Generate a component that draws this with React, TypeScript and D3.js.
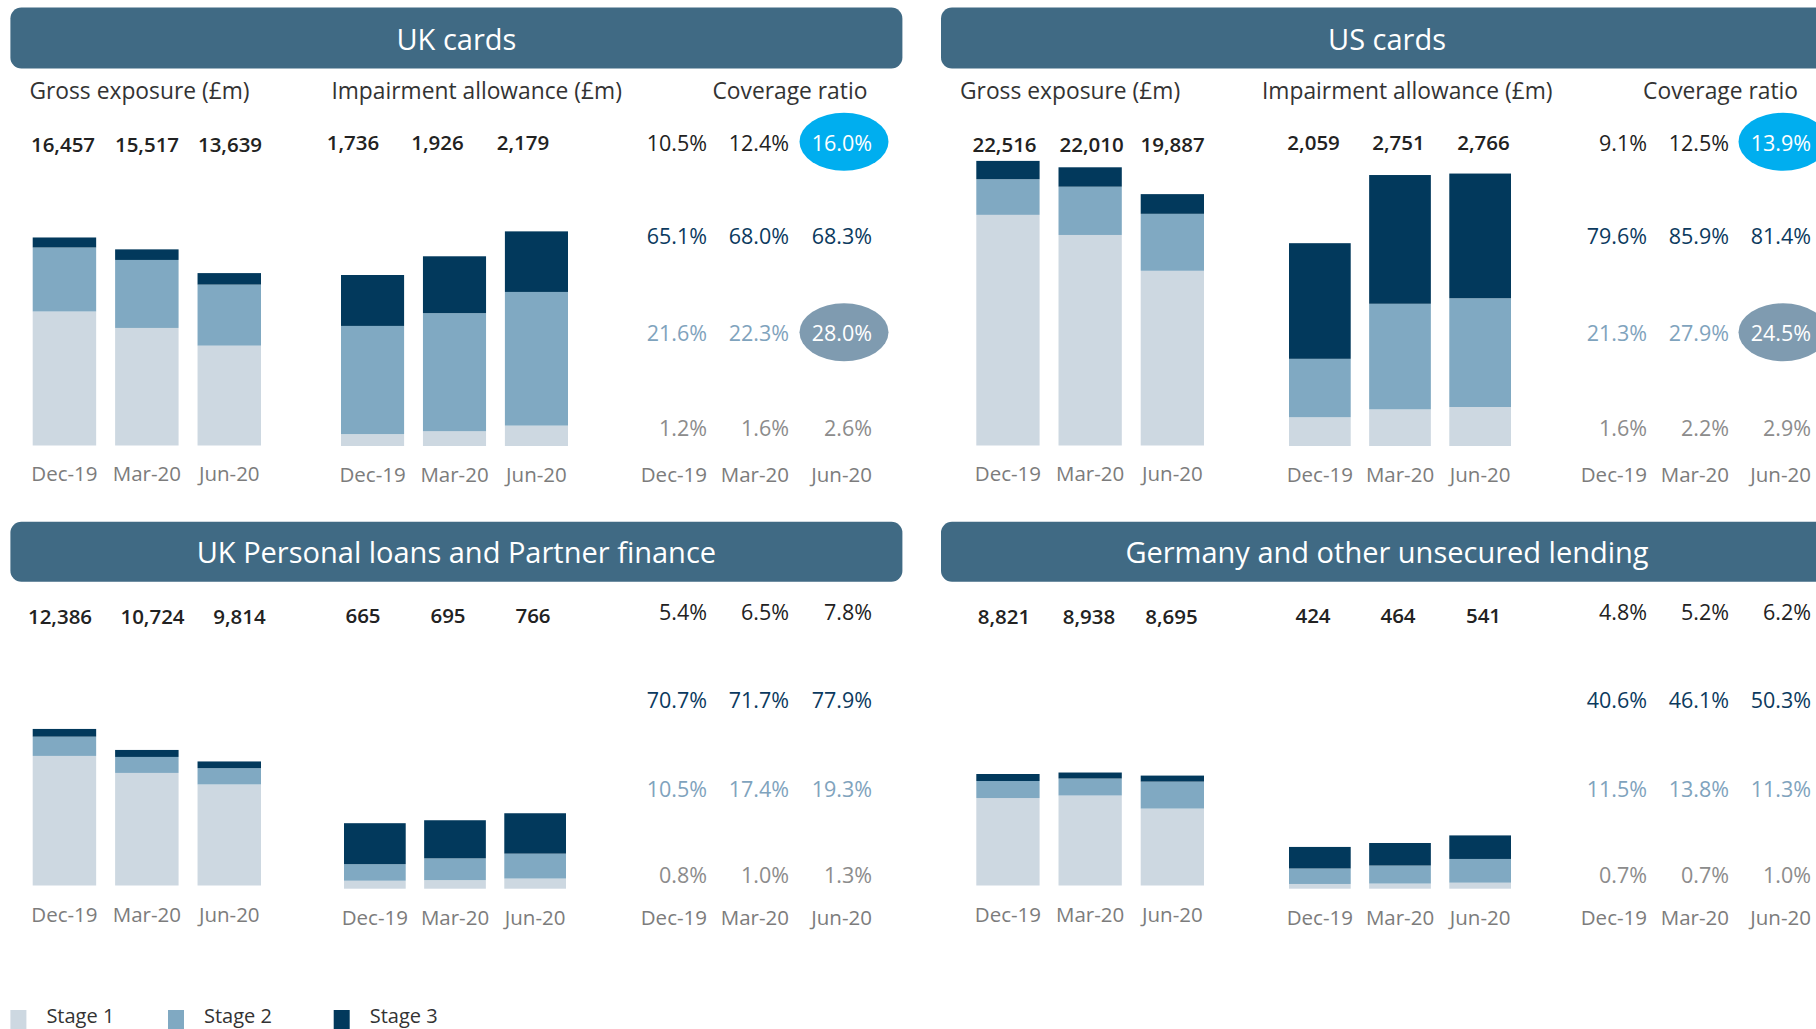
import * as d3 from 'd3';

const W = 1816;
const H = 1029;
const FONT = '"Open Sans", sans-serif';

const DATES = ['Dec-19', 'Mar-20', 'Jun-20'];
const STAGES = ['Stage 1', 'Stage 2', 'Stage 3'];
const STAGE_COLORS = ['#cdd8e1', '#80a9c2', '#02395c'];
const COLUMN_HEADS = ['Gross exposure (£m)', 'Impairment allowance (£m)', 'Coverage ratio'];

// stage 1, stage 2, stage 3 per date (£m)
const UK_CARDS_GROSS = [[10602, 5064, 791], [9300, 5380, 837], [7900, 4830, 909]];
const UK_CARDS_IMP = [[121, 1098, 517], [150, 1199, 577], [207, 1357, 615]];
const UK_CARDS_GROSS_TOTAL = [16457, 15517, 13639];
const UK_CARDS_IMP_TOTAL = [1736, 1926, 2179];
// rows: total, stage 3, stage 2, stage 1
const UK_CARDS_COVERAGE = [[10.5, 12.4, 16.0], [65.1, 68.0, 68.3], [21.6, 22.3, 28.0], [1.2, 1.6, 2.6]];

const US_CARDS_GROSS = [[18246, 2823, 1447], [16656, 3820, 1534], [13821, 4508, 1558]];
const US_CARDS_IMP = [[292, 593, 1174], [372, 1072, 1307], [396, 1104, 1266]];
const US_CARDS_GROSS_TOTAL = [22516, 22010, 19887];
const US_CARDS_IMP_TOTAL = [2059, 2751, 2766];
const US_CARDS_COVERAGE = [[9.1, 12.5, 13.9], [79.6, 85.9, 81.4], [21.3, 27.9, 24.5], [1.6, 2.2, 2.9]];

const UK_LOANS_GROSS = [[10251, 1526, 609], [8906, 1265, 553], [7995, 1289, 530]];
const UK_LOANS_IMP = [[81, 168, 416], [87, 221, 387], [103, 253, 410]];
const UK_LOANS_GROSS_TOTAL = [12386, 10724, 9814];
const UK_LOANS_IMP_TOTAL = [665, 695, 766];
const UK_LOANS_COVERAGE = [[5.4, 6.5, 7.8], [70.7, 71.7, 77.9], [10.5, 17.4, 19.3], [0.8, 1.0, 1.3]];

const GERMANY_GROSS = [[6921, 1346, 554], [7118, 1345, 475], [6084, 2136, 475]];
const GERMANY_IMP = [[48, 157, 219], [52, 183, 229], [61, 241, 239]];
const GERMANY_GROSS_TOTAL = [8821, 8938, 8695];
const GERMANY_IMP_TOTAL = [424, 464, 541];
const GERMANY_COVERAGE = [[4.8, 5.2, 6.2], [40.6, 46.1, 50.3], [11.5, 13.8, 11.3], [0.7, 0.7, 1.0]];

const COV_ROW_COLORS = ['#222222', '#0b3a5e', '#7fa3bd', '#8c8c8c'];

const grossH = d3.scaleLinear().domain([0, 25000]).range([0, 316]);
const impH = d3.scaleLinear().domain([0, 3000]).range([0, 295.5]);

const top = {
  hy: 7.5, hh: 61, titleY: 50, headY: 98.5,
  grossTotY: 152, impTotY: 149.7,
  covRows: [150.7, 243.5, 341.2, 435.5],
  grossBase: 445.5, impBase: 446, grossDateY: 481, impDateY: 481.7, covDateY: 481.5,
};
const bottom = {
  hy: 521.7, hh: 60, titleY: 563, headY: 0,
  grossTotY: 624.3, impTotY: 623.3,
  covRows: [620, 708.3, 797.3, 883.3],
  grossBase: 885.5, impBase: 888.7, grossDateY: 921.7, impDateY: 925, covDateY: 925,
};

const PANELS = [
  {
    title: 'UK cards', row: top, hx: 10.4, heads: true,
    gross: UK_CARDS_GROSS, imp: UK_CARDS_IMP, grossTot: UK_CARDS_GROSS_TOTAL, impTot: UK_CARDS_IMP_TOTAL, cov: UK_CARDS_COVERAGE,
    grossRange: [32.7, 261], impRange: [341, 568], grossTotX: [63, 147, 230], impTotX: [353, 437.5, 523], covX: [707, 789, 872],
    highlight: true,
  },
  {
    title: 'US cards', row: top, hx: 941, heads: true,
    gross: US_CARDS_GROSS, imp: US_CARDS_IMP, grossTot: US_CARDS_GROSS_TOTAL, impTot: US_CARDS_IMP_TOTAL, cov: US_CARDS_COVERAGE,
    grossRange: [976.3, 1204], impRange: [1289, 1511], grossTotX: [1004.5, 1091.7, 1172.7], impTotX: [1313.6, 1398.5, 1483.5], covX: [1647, 1729, 1811],
    highlight: true,
  },
  {
    title: 'UK Personal loans and Partner finance', row: bottom, hx: 10.4, heads: false,
    gross: UK_LOANS_GROSS, imp: UK_LOANS_IMP, grossTot: UK_LOANS_GROSS_TOTAL, impTot: UK_LOANS_IMP_TOTAL, cov: UK_LOANS_COVERAGE,
    grossRange: [32.7, 261], impRange: [344, 566], grossTotX: [60, 152.5, 239.5], impTotX: [363, 448, 533], covX: [707, 789, 872],
    highlight: false,
  },
  {
    title: 'Germany and other unsecured lending', row: bottom, hx: 941, heads: false,
    gross: GERMANY_GROSS, imp: GERMANY_IMP, grossTot: GERMANY_GROSS_TOTAL, impTot: GERMANY_IMP_TOTAL, cov: GERMANY_COVERAGE,
    grossRange: [976.3, 1204], impRange: [1289, 1511], grossTotX: [1004, 1089, 1171.5], impTotX: [1313, 1398, 1483.5], covX: [1647, 1729, 1811],
    highlight: false,
  },
];

const fmt = d3.format(',');
const pct = (v) => `${v.toFixed(1)}%`;

function Stacks({ values, range, base, h, dateY }) {
  const x = d3.scaleBand().domain(DATES).range(range).paddingInner(0.23);
  const series = d3.stack().keys([0, 1, 2])(values.map((v) => ({ 0: v[0], 1: v[1], 2: v[2] })));
  return (
    <g>
      {series.map((s, si) =>
        s.map((d, i) => (
          <rect
            key={`${si}-${i}`}
            x={x(DATES[i])}
            width={x.bandwidth()}
            y={base - h(d[1])}
            height={h(d[1]) - h(d[0])}
            fill={STAGE_COLORS[si]}
          />
        ))
      )}
      {DATES.map((d) => (
        <text key={d} x={x(d) + x.bandwidth() / 2} y={dateY} textAnchor="middle" fontSize={20.5} fill="#7c7c7c">
          {d}
        </text>
      ))}
    </g>
  );
}

function Panel({ p }) {
  const r = p.row;
  return (
    <g>
      <rect x={p.hx} y={r.hy} width={892} height={r.hh} rx={11} fill="#406a84" />
      <text x={p.hx + 446} y={r.titleY} textAnchor="middle" fontSize={29} fill="#ffffff">
        {p.title}
      </text>
      {p.heads && (
        <g fontSize={22.8} fill="#333333">
          <text x={p.hx + 19} y={r.headY}>{COLUMN_HEADS[0]}</text>
          <text x={p.hx + 321} y={r.headY}>{COLUMN_HEADS[1]}</text>
          <text x={p.hx + 857} y={r.headY} textAnchor="end">{COLUMN_HEADS[2]}</text>
        </g>
      )}
      <Stacks values={p.gross} range={p.grossRange} base={r.grossBase} h={grossH} dateY={r.grossDateY} />
      <Stacks values={p.imp} range={p.impRange} base={r.impBase} h={impH} dateY={r.impDateY} />
      <g fontSize={20.5} fontWeight={600} fill="#222222" textAnchor="middle">
        {p.grossTot.map((v, i) => (
          <text key={`g${i}`} x={p.grossTotX[i]} y={r.grossTotY}>{fmt(v)}</text>
        ))}
        {p.impTot.map((v, i) => (
          <text key={`i${i}`} x={p.impTotX[i]} y={r.impTotY}>{fmt(v)}</text>
        ))}
      </g>
      {p.highlight && (
        <g>
          <ellipse cx={p.covX[2] - 28} cy={r.covRows[0] - 9} rx={44.5} ry={29} fill="#00aeef" />
          <ellipse cx={p.covX[2] - 28} cy={r.covRows[2] - 9} rx={44.5} ry={29} fill="#7f9bb0" />
        </g>
      )}
      {p.cov.map((row, ri) =>
        row.map((v, ci) => {
          const hl = p.highlight && ci === 2 && (ri === 0 || ri === 2);
          return (
            <text
              key={`c${ri}-${ci}`}
              x={p.covX[ci]}
              y={r.covRows[ri]}
              textAnchor="end"
              fontSize={21.5}
              fontWeight={ri === 0 ? 500 : 400}
              fill={hl ? '#ffffff' : COV_ROW_COLORS[ri]}
            >
              {pct(v)}
            </text>
          );
        })
      )}
      {DATES.map((d, i) => (
        <text key={d} x={p.covX[i]} y={r.covDateY} textAnchor="end" fontSize={20.5} fill="#7c7c7c">
          {d}
        </text>
      ))}
    </g>
  );
}

export default function App() {
  const legendX = [10.4, 168, 333.7];
  return (
    <svg
      width={W}
      height={H}
      viewBox={`0 0 ${W} ${H}`}
      style={{ position: 'absolute', left: 0, top: 0, background: '#ffffff' }}
      fontFamily={FONT}
    >
      {PANELS.map((p) => (
        <Panel key={p.title} p={p} />
      ))}
      {STAGES.map((s, i) => (
        <g key={s}>
          <rect x={legendX[i]} y={1010} width={16} height={19} fill={STAGE_COLORS[i]} />
          <text x={legendX[i] + 36} y={1023} fontSize={20} fill="#333333">
            {s}
          </text>
        </g>
      ))}
    </svg>
  );
}
